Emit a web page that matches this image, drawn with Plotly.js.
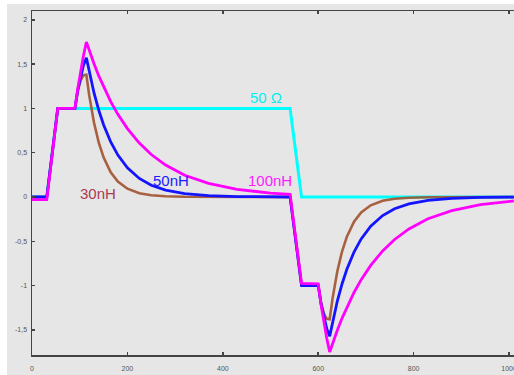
<!DOCTYPE html>
<html>
<head>
<meta charset="utf-8">
<script src="https://cdn.plot.ly/plotly-3.0.1.min.js"></script>
<style>
  html, body { margin: 0; padding: 0; background: #ffffff; width: 514px; height: 375px; overflow: hidden; }
  #chart { position: absolute; left: 7px; top: 4px; width: 525px; height: 371px; }
</style>
</head>
<body>
<div id="chart"></div>
<script>
// Sample times (x axis units) shared by the three inductive-load traces
const time = [0, 31, 54, 90, 96, 102, 108, 114, 120, 130, 140, 150, 165, 180, 200, 225, 250, 280, 320, 370, 430, 500, 541, 565, 600, 606, 612, 618, 624, 630, 640, 650, 660, 675, 690, 710, 735, 760, 790, 830, 880, 940, 1010];

// 30nH load (brown)
const v30nH = [0, 0, 1.0, 1.0, 1.197, 1.318, 1.375, 1.38, 1.144, 0.837, 0.612, 0.448, 0.280, 0.175, 0.094, 0.043, 0.020, 0.008, 0.002, 0, 0, 0, 0, -1.0, -1.0, -1.197, -1.318, -1.375, -1.38, -1.144, -0.837, -0.612, -0.448, -0.280, -0.175, -0.094, -0.043, -0.020, -0.008, -0.002, 0, 0, 0];

// 50nH load (blue)
const v50nH = [0, 0, 1.0, 1.0, 1.209, 1.370, 1.489, 1.57, 1.408, 1.174, 0.979, 0.816, 0.621, 0.473, 0.329, 0.209, 0.132, 0.077, 0.037, 0.015, 0.005, 0.001, 0, -1.0, -1.0, -1.209, -1.370, -1.489, -1.57, -1.408, -1.174, -0.979, -0.816, -0.621, -0.473, -0.329, -0.209, -0.132, -0.077, -0.037, -0.015, -0.005, -0.001];

// 100nH load (magenta)
const v100nH = [-0.03, -0.03, 1.0, 1.0, 1.226, 1.425, 1.599, 1.75, 1.653, 1.503, 1.366, 1.242, 1.077, 0.933, 0.772, 0.608, 0.479, 0.360, 0.246, 0.153, 0.086, 0.044, 0.030, -0.975, -0.98, -1.22, -1.42, -1.60, -1.75, -1.653, -1.503, -1.366, -1.242, -1.077, -0.933, -0.772, -0.608, -0.479, -0.360, -0.246, -0.153, -0.086, -0.044];

// 50 Ohm load (cyan)
const time50ohm = [0, 31, 54, 541, 565, 1025];
const v50ohm = [0, 0, 1, 1, 0, 0];

// Tick labels
const xTickVals = [0, 200, 400, 600, 800, 1000];
const xTickText = ["0", "200", "400", "600", "800", "1000"];
const yTickVals = [-1.5, -1, -0.5, 0, 0.5, 1, 1.5, 2];
const yTickText = ["-1,5", "-1", "-0,5", "0", "0,5", "1", "1,5", "2"];

// Series labels
const labels = [
  { text: "50 Ω", x: 490, y: 1.12, color: "#00f0f0" },
  { text: "50nH", x: 291, y: 0.19, color: "#1a1aff" },
  { text: "100nH", x: 499, y: 0.19, color: "#ff1aff" },
  { text: "30nH", x: 138, y: 0.045, color: "#a83c55" }
];

const traces = [
  { x: time50ohm, y: v50ohm, type: "scatter", mode: "lines", line: { color: "#00ffff", width: 3 }, hoverinfo: "skip" },
  { x: time, y: v30nH, type: "scatter", mode: "lines", line: { color: "#a0522d", width: 2.6 }, opacity: 0.9, hoverinfo: "skip" },
  { x: time, y: v50nH, type: "scatter", mode: "lines", line: { color: "#1414ff", width: 2.8 }, hoverinfo: "skip" },
  { x: time, y: v100nH, type: "scatter", mode: "lines", line: { color: "#ff00ff", width: 2.8 }, hoverinfo: "skip" }
];

const layout = {
  width: 525,
  height: 371,
  margin: { l: 25, r: 11, t: 7, b: 20 },
  paper_bgcolor: "#e6e6e6",
  plot_bgcolor: "#e6e6e6",
  showlegend: false,
  font: { family: "Liberation Sans, Arial, sans-serif", size: 7, color: "#555555" },
  xaxis: {
    range: [0, 1025],
    tickvals: xTickVals,
    ticktext: xTickText,
    showgrid: false,
    zeroline: false,
    showline: true,
    linecolor: "#444444",
    linewidth: 1.5,
    mirror: "ticks",
    ticks: "inside",
    ticklen: 3,
    tickwidth: 1.5,
    tickcolor: "#444444",
    tickfont: { size: 7, color: "#555555" },
    ticklabelstandoff: 6
  },
  yaxis: {
    range: [-1.783, 2.099],
    tickvals: yTickVals,
    ticktext: yTickText,
    showgrid: false,
    zeroline: false,
    showline: true,
    linecolor: "#444444",
    linewidth: 1.5,
    ticks: "inside",
    ticklen: 3,
    tickwidth: 1.5,
    tickcolor: "#444444",
    tickfont: { size: 7, color: "#555555" },
    ticklabelstandoff: 2
  },
  annotations: labels.map(l => ({
    text: l.text, x: l.x, y: l.y, xref: "x", yref: "y",
    showarrow: false,
    font: { family: "Liberation Sans, Arial, sans-serif", size: 15, color: l.color }
  }))
};

Plotly.newPlot("chart", traces, layout, { staticPlot: true, displayModeBar: false });
</script>
</body>
</html>
